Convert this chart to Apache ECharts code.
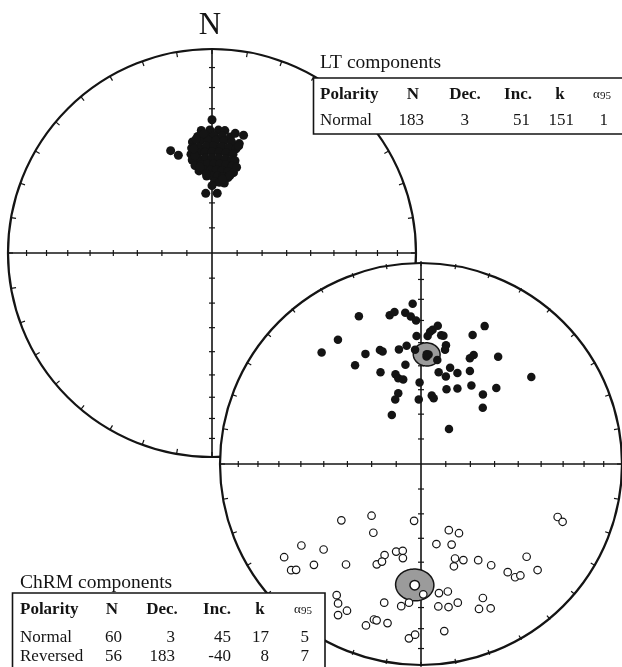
<!DOCTYPE html>
<html>
<head>
<meta charset="utf-8">
<script src="https://cdn.jsdelivr.net/npm/echarts@6/dist/echarts.min.js"></script>
<style>
  html, body { margin: 0; padding: 0; background: #fff; }
  #chart { width: 622px; height: 667px; }
</style>
</head>
<body>
<div id="chart"></div>
<script>
// ---- LT (low-temperature) component directions: declination / inclination (deg)
const ltDec = [
  355, 359, 3, 6,
  353, 357, 1, 5, 9,
  350, 354, 358, 2, 6, 10, 14,
  349, 353, 357, 1, 5, 9, 13,
  348, 352, 356, 0, 4, 8, 12,
  348, 352, 356, 0, 4, 8, 12, 14,
  349, 353, 357, 1, 5, 9, 13,
  351, 355, 359, 3, 7, 11, 15,
  356, 0, 4, 8, 12,
  2, 6, 10,
  0, 338, 341, 0, 354, 5, 11, 15, 356, 14, 16, 13, 8, 350, 350, 352, 352, 356
];
const ltInc = [
  39.5, 39.5, 39.5, 39.5,
  42, 42, 42, 42, 42,
  44, 44, 44, 44, 44, 44, 44,
  46.5, 46.5, 46.5, 46.5, 46.5, 46.5, 46.5,
  49, 49, 49, 49, 49, 49, 49,
  51.5, 51.5, 51.5, 51.5, 51.5, 51.5, 51.5, 51.5,
  54, 54, 54, 54, 54, 54, 54,
  56.5, 56.5, 56.5, 56.5, 56.5, 56.5, 56.5,
  59, 59, 59, 59, 59,
  61.5, 61.5, 61.5,
  35, 45, 48, 63, 66, 66, 40, 40, 41, 45, 54, 58, 60, 50, 47, 43, 55, 58
];

// ---- ChRM directions, normal polarity (lower hemisphere, solid)
const chrmNormalDec = [
  357, 348, 350, 337, 354, 356, 358, 326, 318, 333,
  340, 341, 349, 353, 358, 357, 326, 351, 336, 344,
  345, 348, 359, 342, 338, 358, 329, 3, 4, 5,
  7, 9, 10, 12, 12, 3, 9, 17, 11, 16,
  22, 28, 25, 26, 22, 25, 36, 52, 19, 26,
  33, 42, 45, 48, 9, 11, 39, 4
];
const chrmNormalInc = [
  22, 26, 25, 22, 26, 28, 30, 27, 27, 39,
  40, 41, 42, 41, 37, 43, 41, 49, 49, 52,
  54, 55, 57, 60, 62, 64, 67, 37, 35, 34,
  32, 36, 36, 40, 42, 46, 47, 49, 52, 53,
  50, 47, 42, 40, 32, 26, 35, 31, 58, 56,
  52, 52, 46, 56, 62, 63, 72, 45
];

// ---- ChRM directions, reversed polarity (upper hemisphere, open)
const chrmReversedDec = [
  235, 224, 215, 187, 236, 236, 231, 230, 227, 229,
  217, 202, 204, 202, 196, 192, 191, 169, 157, 151,
  159, 160, 156, 162, 149, 145, 141, 140, 138, 131,
  132, 111, 112, 179, 172, 168, 173, 169, 165, 155,
  158, 154, 213, 211, 209, 207, 195, 188, 185, 197,
  196, 199, 192, 184, 182, 172
];
const chrmReversedInc = [
  -50, -61, -56, -67, -29, -19, -18, -20, -28, -36,
  -38, -50, -45, -47, -53, -54, -51, -57, -61, -58,
  -55, -49, -47, -46, -44, -39, -32, -28, -27, -31,
  -23, -28, -25, -36, -36, -36, -30, -29, -30, -28,
  -24, -22, -24, -21, -16, -20, -30, -30, -32, -21,
  -21, -17, -21, -15, -17, -18
];

// ---- statistics tables
const tableHeader = ['Polarity', 'N', 'Dec.', 'Inc.', 'k', 'α95'];
const ltRows = [['Normal', 183, 3, 51, 151, 1]];
const chrmRows = [
  ['Normal', 60, 3, 45, 17, 5],
  ['Reversed', 56, 183, -40, 8, 7]
];

// ---- net graticule: azimuth ticks on the primitive, inclination ticks on the cross
const ringTickDecs = [0, 10, 20, 30, 40, 50, 60, 70, 80, 90, 100, 110, 120, 130, 140, 150, 160, 170,
  180, 190, 200, 210, 220, 230, 240, 250, 260, 270, 280, 290, 300, 310, 320, 330, 340, 350];
const crossTickIncs = [10, 20, 30, 40, 50, 60, 70, 80];

const INK = '#141414';
const SERIF = '"Liberation Serif", "Times New Roman", Times, serif';
const RAD = Math.PI / 180;

// Lambert equal-area projection onto the unit disc (north up, east right)
function project(dec, inc) {
  const r = Math.SQRT2 * Math.sin((90 - Math.abs(inc)) / 2 * RAD);
  return [r * Math.sin(dec * RAD), r * Math.cos(dec * RAD)];
}

function renderNet(params, api) {
  const c = api.coord([0, 0]);
  const R = api.coord([1, 0])[0] - c[0];
  const kids = [];
  kids.push({ type: 'circle', shape: { cx: c[0], cy: c[1], r: R },
    style: { fill: '#fff', stroke: INK, lineWidth: 2.2 } });
  kids.push({ type: 'line', shape: { x1: c[0] - R, y1: c[1], x2: c[0] + R, y2: c[1] },
    style: { stroke: INK, lineWidth: 1.6 } });
  kids.push({ type: 'line', shape: { x1: c[0], y1: c[1] - R, x2: c[0], y2: c[1] + R },
    style: { stroke: INK, lineWidth: 1.6 } });
  const tickLen = 5;
  ringTickDecs.forEach(function (d) {
    const p = api.coord([Math.sin(d * RAD), Math.cos(d * RAD)]);
    const f = tickLen / R;
    kids.push({ type: 'line', shape: { x1: p[0], y1: p[1], x2: p[0] + (c[0] - p[0]) * f, y2: p[1] + (c[1] - p[1]) * f },
      style: { stroke: INK, lineWidth: 1.2 } });
  });
  const h = 3;
  crossTickIncs.forEach(function (inc) {
    const r = project(0, inc)[1];
    [[0, r], [0, -r]].forEach(function (v) {
      const p = api.coord(v);
      kids.push({ type: 'line', shape: { x1: p[0] - h, y1: p[1], x2: p[0] + h, y2: p[1] },
        style: { stroke: INK, lineWidth: 1.2 } });
    });
    [[r, 0], [-r, 0]].forEach(function (v) {
      const p = api.coord(v);
      kids.push({ type: 'line', shape: { x1: p[0], y1: p[1] - h, x2: p[0], y2: p[1] + h },
        style: { stroke: INK, lineWidth: 1.2 } });
    });
  });
  return { type: 'group', children: kids };
}

// alpha95 confidence cone around a mean direction, drawn as a projected small circle
function renderCone(params, api) {
  const D = api.value(0) * RAD, I = api.value(1) * RAD, a = api.value(2) * RAD;
  const m = [Math.cos(I) * Math.cos(D), Math.cos(I) * Math.sin(D), Math.sin(I)];
  const u = [-Math.sin(I) * Math.cos(D), -Math.sin(I) * Math.sin(D), Math.cos(I)];
  const v = [-Math.sin(D), Math.cos(D), 0];
  const pts = [];
  for (let t = 0; t < 360; t += 5) {
    const ct = Math.cos(t * RAD), st = Math.sin(t * RAD);
    const p = [0, 1, 2].map(function (k) {
      return Math.cos(a) * m[k] + Math.sin(a) * (ct * u[k] + st * v[k]);
    });
    const inc = Math.asin(Math.max(-1, Math.min(1, p[2]))) / RAD;
    const dec = Math.atan2(p[1], p[0]) / RAD;
    pts.push(api.coord(project(dec, inc)));
  }
  return { type: 'polygon', shape: { points: pts },
    style: { fill: '#9b9b9b', stroke: INK, lineWidth: 1.5 } };
}

function toXY(decs, incs) { return decs.map(function (d, i) { return project(d, incs[i]); }); }

const nrm = chrmRows[0], rev = chrmRows[1];

// ---- tables drawn as graphic elements
function tableGraphic(title, rows, box, colX, headerY, rowYs, titleY) {
  const els = [];
  els.push({ type: 'rect', shape: box, style: { fill: '#fff', stroke: INK, lineWidth: 1.6 }, z: 100 });
  els.push({ type: 'text', x: colX.head[0], y: titleY, z: 101,
    style: { text: title, font: '19.5px ' + SERIF, fill: INK, textVerticalAlign: 'middle', textAlign: 'left' } });
  tableHeader.forEach(function (hd, i) {
    const isAlpha = i === 5;
    els.push({ type: 'text', x: colX.head[i], y: headerY, z: 101,
      style: isAlpha ? {
        text: '{a|α}{b|95}', textAlign: 'center', textVerticalAlign: 'middle', fill: INK,
        rich: { a: { fontSize: 13, fontFamily: SERIF, fill: INK }, b: { fontSize: 11, fontFamily: SERIF, fill: INK, padding: [2, 0, 0, 0] } }
      } : {
        text: hd, font: 'bold 17px ' + SERIF, fill: INK,
        textAlign: i === 0 ? 'left' : 'center', textVerticalAlign: 'middle'
      } });
  });
  rows.forEach(function (row, r) {
    row.forEach(function (val, i) {
      els.push({ type: 'text', x: colX.val[i], y: rowYs[r], z: 101,
        style: { text: String(val), font: '17px ' + SERIF, fill: INK,
          textAlign: i === 0 ? 'left' : 'right', textVerticalAlign: 'middle' } });
    });
  });
  return els;
}

const ltEls = tableGraphic('LT components', ltRows,
  { x: 313.5, y: 78, width: 330, height: 56 },
  { head: [320, 413, 465, 518, 560, 602], val: [320, 424, 469, 530, 574, 608] },
  95, [121], 63);

const chrmEls = tableGraphic('ChRM components', chrmRows,
  { x: 12.5, y: 593, width: 312.5, height: 90 },
  { head: [20, 112, 162, 217, 260, 303], val: [20, 122, 175, 231, 269, 309] },
  610, [638, 656.5], 583);

const option = {
  animation: false,
  backgroundColor: '#fff',
  grid: [
    { left: 8, top: 49, width: 408, height: 408 },
    { left: 220, top: 261, width: 406, height: 406 }
  ],
  xAxis: [
    { type: 'value', gridIndex: 0, min: -1, max: 1, show: false },
    { type: 'value', gridIndex: 1, min: -1, max: 1, show: false }
  ],
  yAxis: [
    { type: 'value', gridIndex: 0, min: -1, max: 1, show: false },
    { type: 'value', gridIndex: 1, min: -1, max: 1, show: false }
  ],
  graphic: [
    { type: 'text', x: 210, y: 26, z: 101,
      style: { text: 'N', font: '31px ' + SERIF, fill: INK, textAlign: 'center', textVerticalAlign: 'middle' } }
  ].concat(ltEls, chrmEls),
  series: [
    { type: 'custom', name: 'LT net', xAxisIndex: 0, yAxisIndex: 0, z: 1, silent: true,
      renderItem: renderNet, data: [[0, 0]] },
    { type: 'scatter', name: 'LT', xAxisIndex: 0, yAxisIndex: 0, z: 2, silent: true,
      symbol: 'circle', symbolSize: 9, itemStyle: { color: INK, opacity: 1 },
      data: toXY(ltDec, ltInc) },
    { type: 'custom', name: 'ChRM net', xAxisIndex: 1, yAxisIndex: 1, z: 3, silent: true,
      renderItem: renderNet, data: [[0, 0]] },
    { type: 'custom', name: 'ChRM a95', xAxisIndex: 1, yAxisIndex: 1, z: 4, silent: true,
      renderItem: renderCone,
      data: [[nrm[2], nrm[3], nrm[5]], [rev[2], rev[3], rev[5]]] },
    { type: 'scatter', name: 'ChRM normal', xAxisIndex: 1, yAxisIndex: 1, z: 5, silent: true,
      symbol: 'circle', symbolSize: 8.5, itemStyle: { color: INK, opacity: 1 },
      data: toXY(chrmNormalDec, chrmNormalInc) },
    { type: 'scatter', name: 'ChRM reversed', xAxisIndex: 1, yAxisIndex: 1, z: 5, silent: true,
      symbol: 'circle', symbolSize: 7.5, itemStyle: { color: '#fff', borderColor: INK, borderWidth: 1.2, opacity: 1 },
      data: toXY(chrmReversedDec, chrmReversedInc) },
    { type: 'scatter', name: 'Normal mean', xAxisIndex: 1, yAxisIndex: 1, z: 6, silent: true,
      symbol: 'circle', symbolSize: 8.5, itemStyle: { color: INK, opacity: 1 },
      data: [project(nrm[2], nrm[3])] },
    { type: 'scatter', name: 'Reversed mean', xAxisIndex: 1, yAxisIndex: 1, z: 6, silent: true,
      symbol: 'circle', symbolSize: 9.5, itemStyle: { color: '#fff', borderColor: INK, borderWidth: 1.5, opacity: 1 },
      data: [project(rev[2], rev[3])] }
  ]
};

const chart = echarts.init(document.getElementById('chart'), null, { renderer: 'canvas' });
chart.setOption(option);
</script>
</body>
</html>
